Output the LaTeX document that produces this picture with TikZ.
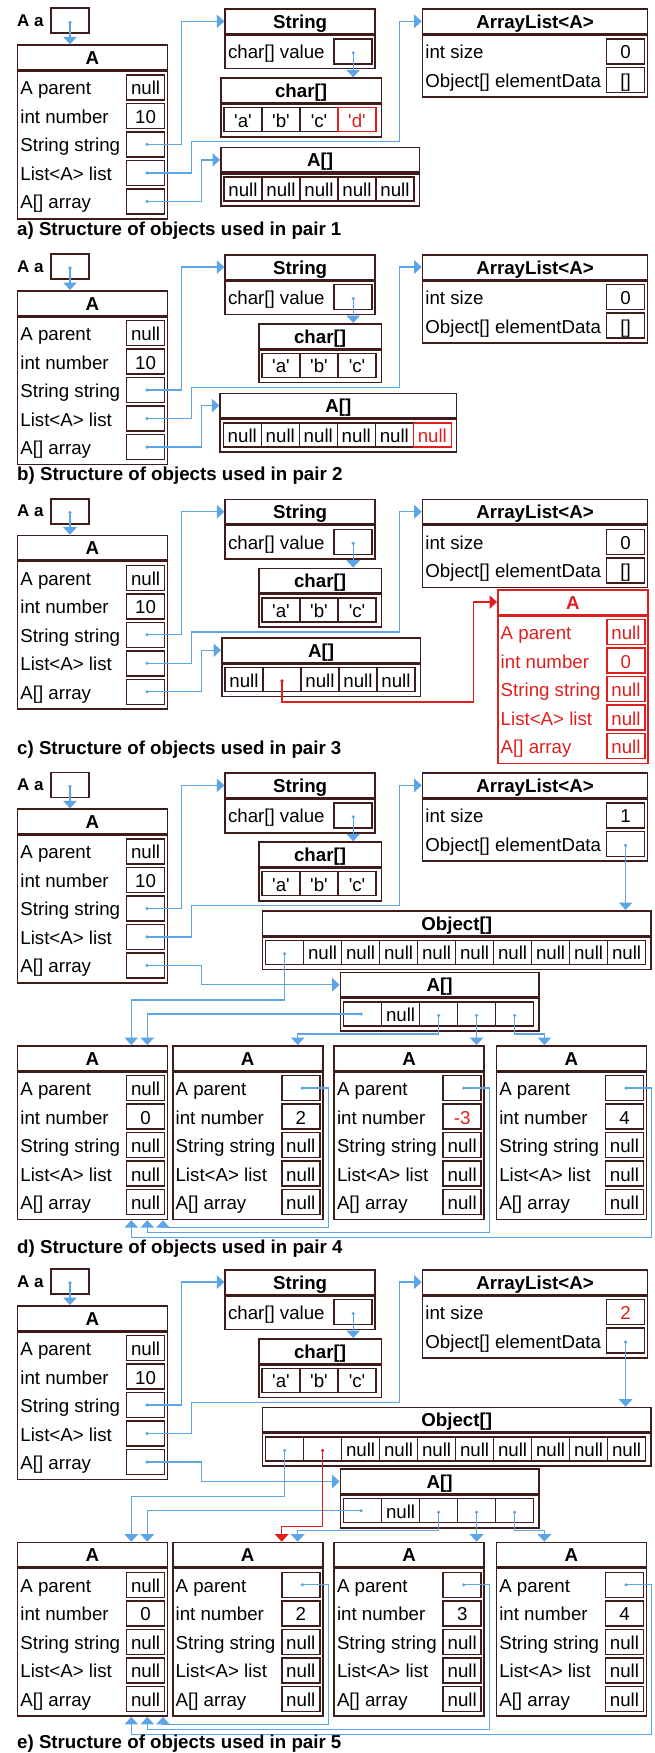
\documentclass[tikz,border=0pt]{standalone}
\usepackage{fontspec}
\setmainfont{Liberation Sans}
\usepackage{tikz}
\usetikzlibrary{positioning, arrows.meta, calc}

\definecolor{rand}{RGB}{64,28,28}
\definecolor{blau}{RGB}{92,165,230}
\definecolor{rot}{RGB}{224,30,30}

\newcommand{\gr}{\fontsize{18.7}{22}\selectfont}
\newcommand{\kl}{\fontsize{17}{20}\selectfont}
\newcommand{\q}[1]{\textquotesingle#1\textquotesingle}

% Objekt: Name, Ecke oben links, Breite, Titel, Stil, Felder (Name/Wert)
\newcommand{\objekt}[6]{%
  \node[kopf, #5, minimum width=#3pt, anchor=north west] (#1) at #2 {#4};
  \foreach \lab/\val [count=\i] in {#6} {
    \node[feld, #5, draw=none] (#1-l\i) at ($(#1.south west)+(3.5,{17+(\i-1)*28.5})$) {\lab};
    \node[wert, #5] (#1-\i) at ($(#1.south east)+(-22.7,{17+(\i-1)*28.5})$) {\val};
    \xdef\anz{\i}
  }
  \node[rumpf, #5, minimum width=#3pt, minimum height={5+\anz*28.5}, anchor=north west] (#1-r) at (#1.south west) {};
}

% Array: Name, Ecke oben links, Anzahl, Titel, Zellen (Wert/Stil)
\newcommand{\reihe}[5]{%
  \node[kopf, alt, minimum width={38*#3+8.5}, anchor=north west] (#1) at #2 {#4};
  \node[rumpf, alt, minimum width={38*#3+8.5}, minimum height=32.5, anchor=north west] (#1-r) at (#1.south west) {};
  \foreach \val/\stil [count=\i] in {#5}
    \node[zelle, \stil] (#1-\i) at ($(#1.south west)+({23+(\i-1)*38},16.2)$) {\val};
}

\begin{document}
\begin{tikzpicture}[x=1pt, y=-1pt,
    kopf/.style={rectangle, line width=1.6pt, minimum height=24.5pt, inner sep=0pt, font=\gr\bfseries, text height=14pt, text depth=0pt},
    rumpf/.style={rectangle, line width=1.6pt, inner sep=0pt},
    feld/.style={anchor=west, inner sep=0pt, font=\gr, text height=15pt, text depth=0pt},
    wert/.style={rectangle, line width=1.6pt, minimum width=38pt, minimum height=25pt, inner sep=0pt, font=\gr, text height=15pt, text depth=0pt},
    zelle/.style={rectangle, line width=1.4pt, minimum width=38pt, minimum height=24pt, inner sep=0pt, font=\gr, text height=15pt, text depth=0pt},
    alt/.style={draw=rand},
    neu/.style={draw=rot, text=rot},
    zeiger/.style={blau, line width=1.3pt, {Circle[length=3pt]}-{Triangle[length=7.5pt, width=13.5pt]}},
    neuzeiger/.style={zeiger, rot},
    vname/.style={anchor=west, inner sep=0pt, font=\kl\bfseries},
    unterschrift/.style={anchor=west, inner sep=0pt, font=\gr\bfseries}
  ]
  \useasboundingbox (0,0) rectangle (654,1753);

  % Teil a
  \begin{scope}[shift={(0,8.3)}]
    % Knoten
    \node[vname] (a-lbl) at (17,12.5) {A a};
    \node[wert, alt] (a-a) at (70,12.5) {};
    \objekt{a-A}{(16.7,36)}{150}{A}{alt}{A parent/null, int number/10, String string/{}, List<A> list/{}, A[] array/{}}
    \objekt{a-S}{(224.3,0)}{150}{String}{alt}{char[] value/{}}
    \reihe{a-C}{(220,69)}{4}{char[]}{\q{a}/alt, \q{b}/alt, \q{c}/alt, \q{d}/neu}
    \objekt{a-L}{(421.7,0)}{225}{ArrayList<A>}{alt}{int size/0, Object[] elementData/[]}
    \reihe{a-F}{(220,138.5)}{5}{A[]}{null/alt, null/alt, null/alt, null/alt, null/alt}
    % Zeiger
    \draw[zeiger] (a-a.center) -- (a-a.center |- a-A.north);
    \draw[zeiger] (a-A-3.center) -- ++(36,0) |- (a-S.west);
    \draw[zeiger] (a-A-4.center) -- ++(46,0) -- ++(0,-31.3) -| ([xshift=-22pt]a-L.west) -- (a-L.west);
    \draw[zeiger] (a-A-5.center) -- ++(56,0) |- (a-F.west);
    \draw[zeiger] (a-S-1.center) -- (a-S-1.center |- a-C.north);
    \node[unterschrift] (a-cap) at (17,222) {a) Structure of objects used in pair 1};
  \end{scope}

  % Teil b
  \begin{scope}[shift={(0,254)}]
    % Knoten
    \node[vname] (b-lbl) at (17,12.5) {A a};
    \node[wert, alt] (b-a) at (70,12.5) {};
    \objekt{b-A}{(16.7,36)}{150}{A}{alt}{A parent/null, int number/10, String string/{}, List<A> list/{}, A[] array/{}}
    \objekt{b-S}{(224.3,0)}{150}{String}{alt}{char[] value/{}}
    \reihe{b-C}{(258,69)}{3}{char[]}{\q{a}/alt, \q{b}/alt, \q{c}/alt}
    \objekt{b-L}{(421.7,0)}{225}{ArrayList<A>}{alt}{int size/0, Object[] elementData/[]}
    \reihe{b-F}{(219.3,138.5)}{6}{A[]}{null/alt, null/alt, null/alt, null/alt, null/alt, null/neu}
    % Zeiger
    \draw[zeiger] (b-a.center) -- (b-a.center |- b-A.north);
    \draw[zeiger] (b-A-3.center) -- ++(36,0) |- (b-S.west);
    \draw[zeiger] (b-A-4.center) -- ++(46,0) -- ++(0,-31.3) -| ([xshift=-22pt]b-L.west) -- (b-L.west);
    \draw[zeiger] (b-A-5.center) -- ++(56,0) |- (b-F.west);
    \draw[zeiger] (b-S-1.center) -- (b-S-1.center |- b-C.north);
    \node[unterschrift] (b-cap) at (17,222) {b) Structure of objects used in pair 2};
  \end{scope}

  % Teil c
  \begin{scope}[shift={(0,498.7)}]
    % Knoten
    \node[vname] (c-lbl) at (17,12.5) {A a};
    \node[wert, alt] (c-a) at (70,12.5) {};
    \objekt{c-A}{(16.7,36)}{150}{A}{alt}{A parent/null, int number/10, String string/{}, List<A> list/{}, A[] array/{}}
    \objekt{c-S}{(224.3,0)}{150}{String}{alt}{char[] value/{}}
    \reihe{c-C}{(258,69)}{3}{char[]}{\q{a}/alt, \q{b}/alt, \q{c}/alt}
    \objekt{c-L}{(421.7,0)}{225}{ArrayList<A>}{alt}{int size/0, Object[] elementData/[]}
    \reihe{c-F}{(221,138.5)}{5}{A[]}{null/alt, {}/alt, null/alt, null/alt, null/alt}
    \objekt{c-R}{(497,90.3)}{150}{A}{neu}{A parent/null, int number/0, String string/null, List<A> list/null, A[] array/null}
    % Zeiger
    \draw[zeiger] (c-a.center) -- (c-a.center |- c-A.north);
    \draw[zeiger] (c-A-3.center) -- ++(36,0) |- (c-S.west);
    \draw[zeiger] (c-A-4.center) -- ++(46,0) -- ++(0,-31.3) -| ([xshift=-22pt]c-L.west) -- (c-L.west);
    \draw[zeiger] (c-A-5.center) -- ++(56,0) |- (c-F.west);
    \draw[zeiger] (c-S-1.center) -- (c-S-1.center |- c-C.north);
    \draw[neuzeiger] (c-F-2.center) -- ++(0,22.4) -| ([xshift=-23.7pt]c-R.west) -- (c-R.west);
    \node[unterschrift] (c-cap) at (17,251.3) {c) Structure of objects used in pair 3};
  \end{scope}

  % Teil d
  \begin{scope}[shift={(0,772.3)}]
    % Knoten
    \node[vname] (d-lbl) at (17,12.5) {A a};
    \node[wert, alt] (d-a) at (70,12.5) {};
    \objekt{d-A}{(16.7,36)}{150}{A}{alt}{A parent/null, int number/10, String string/{}, List<A> list/{}, A[] array/{}}
    \objekt{d-S}{(224.3,0)}{150}{String}{alt}{char[] value/{}}
    \reihe{d-C}{(258,69)}{3}{char[]}{\q{a}/alt, \q{b}/alt, \q{c}/alt}
    \objekt{d-L}{(421.7,0)}{225}{ArrayList<A>}{alt}{int size/1, Object[] elementData/{}}
    \reihe{d-O}{(261.6,137.7)}{10}{Object[]}{{}/alt, null/alt, null/alt, null/alt, null/alt, null/alt, null/alt, null/alt, null/alt, null/alt}
    \reihe{d-F}{(339.6,199.4)}{5}{A[]}{{}/alt, null/alt, {}/alt, {}/alt, {}/alt}
    \objekt{d-A1}{(16.7,272.7)}{150}{A}{alt}{A parent/null, int number/0, String string/null, List<A> list/null, A[] array/null}
    \objekt{d-A2}{(171.9,272.7)}{150}{A}{alt}{A parent/{}, int number/2, String string/null, List<A> list/null, A[] array/null}
    \objekt{d-A3}{(333.3,272.7)}{150}{A}{alt}{A parent/{}, int number/{\color{rot}-3}, String string/null, List<A> list/null, A[] array/null}
    \objekt{d-A4}{(495.6,272.7)}{150}{A}{alt}{A parent/{}, int number/4, String string/null, List<A> list/null, A[] array/null}
    % Zeiger
    \draw[zeiger] (d-a.center) -- (d-a.center |- d-A.north);
    \draw[zeiger] (d-A-3.center) -- ++(36,0) |- (d-S.west);
    \draw[zeiger] (d-A-4.center) -- ++(46,0) -- ++(0,-31.3) -| ([xshift=-22pt]d-L.west) -- (d-L.west);
    \draw[zeiger] (d-A-5.center) -- ++(56,0) |- (d-F.west);
    \draw[zeiger] (d-S-1.center) -- (d-S-1.center |- d-C.north);
    \draw[zeiger] (d-L-2.center) -- (d-L-2.center |- d-O.north);
    \draw[zeiger] (d-O-1.center) -- ++(0,47.6) -| ([xshift=-37pt]d-A1.north east);
    \draw[zeiger] (d-F-1.center) -| ([xshift=-21pt]d-A1.north east);
    \draw[zeiger] (d-F-3.center) -- ++(0,20) -| ([xshift=50pt]d-A2.north);
    \draw[zeiger] (d-F-4.center) -- (d-F-4.center |- d-A3.north);
    \draw[zeiger] (d-F-5.center) -- ++(0,20) -| ([xshift=-27pt]d-A4.north);
    \draw[zeiger] (d-A2-1.center) -- ++(28,0) -- ++(0,139.7) -| ([xshift=-5.3pt]d-A1-r.south east);
    \draw[zeiger] (d-A3-1.center) -- ++(27.3,0) -- ++(0,144.4) -| ([xshift=-21pt]d-A1-r.south east);
    \draw[zeiger] (d-A4-1.center) -- ++(27.2,0) -- ++(0,149.4) -| ([xshift=-37pt]d-A1-r.south east);
    \node[unterschrift] (d-cap) at (17,476) {d) Structure of objects used in pair 4};
  \end{scope}

  % Teil e
  \begin{scope}[shift={(0,1269)}]
    % Knoten
    \node[vname] (e-lbl) at (17,12.5) {A a};
    \node[wert, alt] (e-a) at (70,12.5) {};
    \objekt{e-A}{(16.7,36)}{150}{A}{alt}{A parent/null, int number/10, String string/{}, List<A> list/{}, A[] array/{}}
    \objekt{e-S}{(224.3,0)}{150}{String}{alt}{char[] value/{}}
    \reihe{e-C}{(258,69)}{3}{char[]}{\q{a}/alt, \q{b}/alt, \q{c}/alt}
    \objekt{e-L}{(421.7,0)}{225}{ArrayList<A>}{alt}{int size/{\color{rot}2}, Object[] elementData/{}}
    \reihe{e-O}{(261.6,137.7)}{10}{Object[]}{{}/alt, {}/alt, null/alt, null/alt, null/alt, null/alt, null/alt, null/alt, null/alt, null/alt}
    \reihe{e-F}{(339.6,199.4)}{5}{A[]}{{}/alt, null/alt, {}/alt, {}/alt, {}/alt}
    \objekt{e-A1}{(16.7,272.7)}{150}{A}{alt}{A parent/null, int number/0, String string/null, List<A> list/null, A[] array/null}
    \objekt{e-A2}{(171.9,272.7)}{150}{A}{alt}{A parent/{}, int number/2, String string/null, List<A> list/null, A[] array/null}
    \objekt{e-A3}{(333.3,272.7)}{150}{A}{alt}{A parent/{}, int number/3, String string/null, List<A> list/null, A[] array/null}
    \objekt{e-A4}{(495.6,272.7)}{150}{A}{alt}{A parent/{}, int number/4, String string/null, List<A> list/null, A[] array/null}
    % Zeiger
    \draw[zeiger] (e-a.center) -- (e-a.center |- e-A.north);
    \draw[zeiger] (e-A-3.center) -- ++(36,0) |- (e-S.west);
    \draw[zeiger] (e-A-4.center) -- ++(46,0) -- ++(0,-31.3) -| ([xshift=-22pt]e-L.west) -- (e-L.west);
    \draw[zeiger] (e-A-5.center) -- ++(56,0) |- (e-F.west);
    \draw[zeiger] (e-S-1.center) -- (e-S-1.center |- e-C.north);
    \draw[zeiger] (e-L-2.center) -- (e-L-2.center |- e-O.north);
    \draw[zeiger] (e-O-1.center) -- ++(0,47.6) -| ([xshift=-37pt]e-A1.north east);
    \draw[zeiger] (e-F-1.center) -| ([xshift=-21pt]e-A1.north east);
    \draw[zeiger] (e-F-3.center) -- ++(0,20) -| ([xshift=50pt]e-A2.north);
    \draw[zeiger] (e-F-4.center) -- (e-F-4.center |- e-A3.north);
    \draw[zeiger] (e-F-5.center) -- ++(0,20) -| ([xshift=-27pt]e-A4.north);
    \draw[zeiger] (e-A2-1.center) -- ++(28,0) -- ++(0,139.7) -| ([xshift=-5.3pt]e-A1-r.south east);
    \draw[zeiger] (e-A3-1.center) -- ++(27.3,0) -- ++(0,144.4) -| ([xshift=-21pt]e-A1-r.south east);
    \draw[zeiger] (e-A4-1.center) -- ++(27.2,0) -- ++(0,149.4) -| ([xshift=-37pt]e-A1-r.south east);
    \draw[neuzeiger] (e-O-2.center) -- ++(0,77.6) -| ([xshift=34pt]e-A2.north);
    \node[unterschrift] (e-cap) at (17,475) {e) Structure of objects used in pair 5};
  \end{scope}
\end{tikzpicture}
\end{document}
